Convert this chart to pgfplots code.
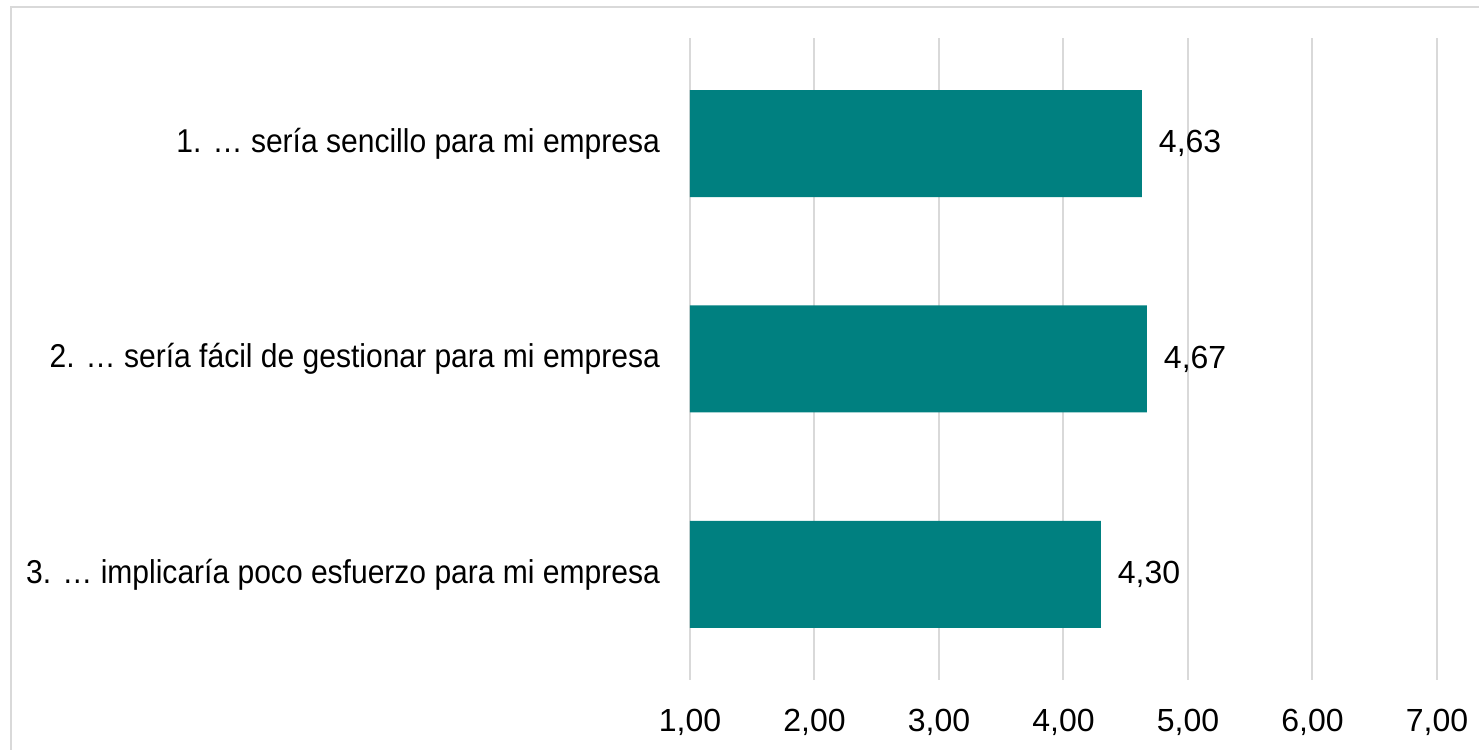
\documentclass[border=0pt]{standalone}
\usepackage{pgfplots}
\pgfplotsset{compat=1.18}
\usepackage{fontspec}
\setmainfont{Liberation Sans}
\newfontfamily\labfont[FakeStretch=0.91]{Liberation Sans}
\definecolor{barc}{RGB}{0,128,128}
\definecolor{gridc}{RGB}{217,217,217}
\begin{document}
\begin{tikzpicture}
\useasboundingbox (-345pt,-35pt) rectangle (394.5pt,340pt);
\draw[gridc, line width=1pt] (-339.5pt,-60pt) -- (-339.5pt,336.5pt) -- (420pt,336.5pt);
\begin{axis}[
  at={(0pt,0pt)}, anchor=south west,
  scale only axis,
  width=373.5pt, height=321pt,
  xbar, bar width=53.5pt,
  xmin=1, xmax=7, ymin=-0.49, ymax=2.49,
  xtick={1,2,3,4,5,6,7},
  ytick={0,1,2},
  yticklabels={{3. … implicaría poco esfuerzo para mi empresa},{2. … sería fácil de gestionar para mi empresa},{1. … sería sencillo para mi empresa}},
  axis line style={draw=none},
  major tick length=0pt,
  xmajorgrids, grid style={gridc, line width=1pt},
  ymajorgrids=false,
  tick label style={font=\fontsize{16}{19}\selectfont},
  yticklabel style={font=\labfont\fontsize{16.5}{19}\selectfont, anchor=east, xshift=-11.5pt},
  xticklabel style={yshift=-11pt},
  /pgf/number format/.cd, use comma, fixed, fixed zerofill, precision=2, assume math mode=true,
  /pgfplots/.cd,
  nodes near coords,
  nodes near coords style={font=\fontsize{16}{19}\selectfont, anchor=west, xshift=5pt, black,
    /pgf/number format/.cd, use comma, fixed, fixed zerofill, precision=2, assume math mode=true},
  point meta=explicit,
  clip=false,
]
\addplot[fill=barc, draw=none] coordinates {(4.30,0) [4.30] (4.67,1) [4.67] (4.63,2) [4.63]};
\end{axis}
\end{tikzpicture}
\end{document}
